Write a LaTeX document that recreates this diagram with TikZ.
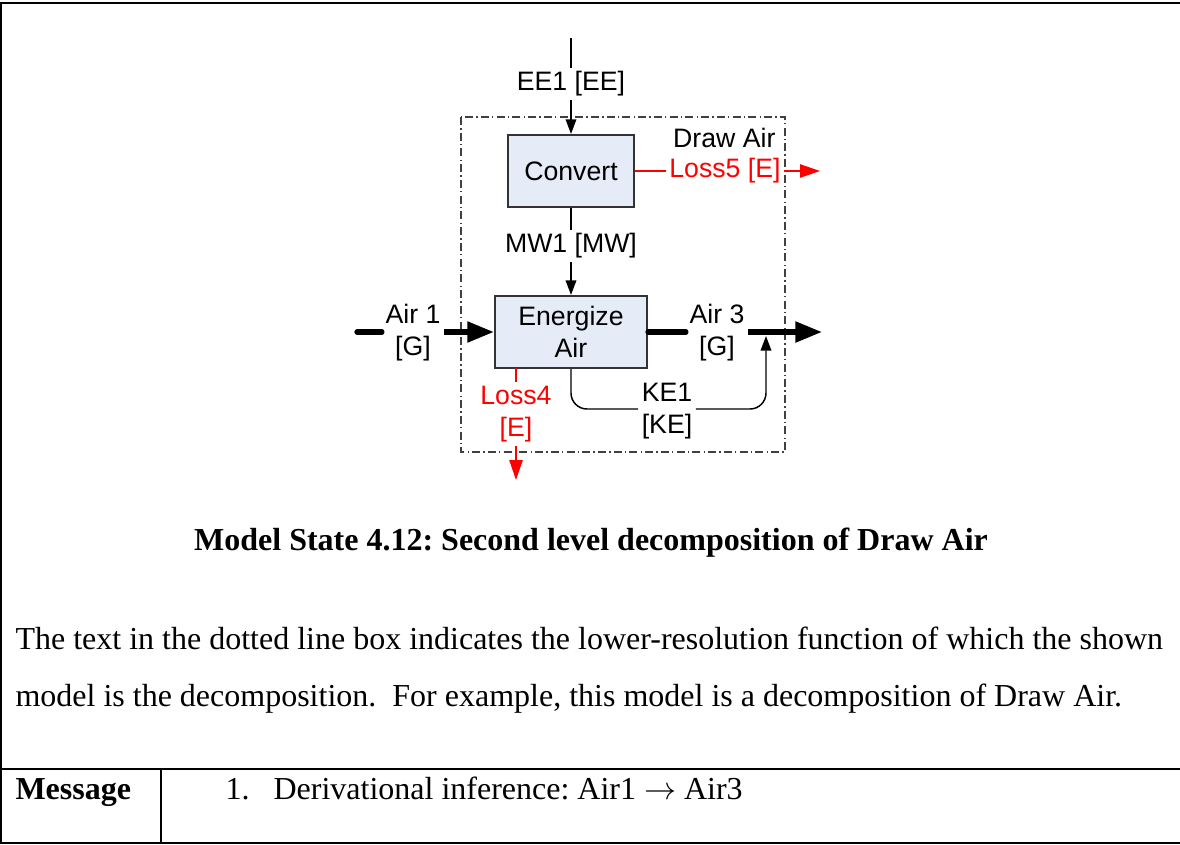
\documentclass[tikz,border=0pt]{standalone}
\usepackage{fontspec}
\setmainfont{Liberation Serif}
\newfontfamily\diagfont{Liberation Sans}
\usetikzlibrary{arrows.meta}
\frenchspacing

\definecolor{boxblue}{HTML}{E6ECF7}
\definecolor{boxline}{HTML}{333333}
\definecolor{lossred}{HTML}{FF0000}

\begin{document}
\begin{tikzpicture}[x=0.375pt, y=-0.375pt,
  fn/.style={draw=boxline, line width=0.8pt, fill=boxblue, align=center,
    font=\diagfont\fontsize{10}{12}\selectfont, inner sep=0pt},
  lbl/.style={fill=white, align=center, inner sep=1.2pt,
    font=\diagfont\fontsize{10}{12}\selectfont},
  flow/.style={line width=0.55pt},
  flowtip/.style={flow, -{Triangle[length=5.5pt, width=4pt]}},
  matter/.style={line width=2pt},
  mattertip/.style={matter, -{Triangle[length=10pt, width=7.5pt]}},
  loss/.style={line width=0.55pt, draw=lossred},
  losstip/.style={loss, -{Triangle[length=7.5pt, width=5pt]}, lossred},
  boundary/.style={draw=black!75, line width=0.4pt,
    dash pattern=on 3pt off 1.2pt on 0.5pt off 1.2pt},
  rule/.style={line width=0.75pt},
  body/.style={font=\fontsize{12}{14}\selectfont, inner sep=0pt}
]
\useasboundingbox (0,0) rectangle (1180,844);

% frame of the model-state cell and the message row
\draw[rule] (0,3) -- (1180,3);
\draw[rule] (1,3) -- (1,844);
\draw[rule] (0,769) -- (1180,769);
\draw[rule] (161,769) -- (161,844);
\draw[line width=0.4pt] (0,843) -- (1180,843);

% boundary of the higher-level function
\draw[boundary] (461,117) rectangle (785,452);
\node[anchor=east, font=\diagfont\fontsize{10}{12}\selectfont, inner sep=0pt]
  (drawair) at (776,138) {Draw Air};

% functions
\node[fn, minimum width=47.25pt, minimum height=27pt] (convert) at (571,171) {Convert};
\node[fn, minimum width=57pt, minimum height=27pt] (energize) at (571,332) {Energize\\Air};

% flow labels
\node[lbl] (ee1) at (571,84) {EE1 [EE]};
\node[lbl, text=lossred] (loss5) at (725,171) {Loss5 [E]};
\node[lbl] (mw1) at (571,246) {MW1 [MW]};
\node[lbl] (air1) at (413,333) {Air 1\\{}[G]};
\node[lbl] (air3) at (717,333) {Air 3\\{}[G]};
\node[lbl] (ke1) at (667,411) {KE1\\{}[KE]};
\node[lbl, text=lossred] (loss4) at (516,414) {Loss4\\{}[E]};

% free ends
\coordinate (eein) at (571,38);
\coordinate (loss5out) at (820,171);
\coordinate (air1in) at (357,332);
\coordinate (air3out) at (822,332);
\coordinate (kejoin) at (766,336);
\coordinate (loss4src) at (516,368);
\coordinate (loss4out) at (516,480);

% energy into Convert
\draw[flow] (eein) -- (ee1);
\draw[flowtip] (ee1) -- (convert);

% mechanical work into Energize Air
\draw[flow] (convert) -- (mw1);
\draw[flowtip] (mw1) -- (energize);

% losses
\draw[loss] (convert) -- (loss5);
\draw[losstip] (loss5) -- (loss5out);
\draw[loss] (loss4src) -- (loss4);
\draw[losstip] (loss4) -- (loss4out);

% air stream
\draw[matter, line cap=round] (air1in) -- (air1.west |- air1in);
\draw[mattertip] (air1.east |- air1in) -- (energize.west);
\draw[matter, line cap=round] (energize.east) -- (air3.west |- air3out);
\draw[mattertip] (air3.east |- air3out) -- (air3out);

% kinetic energy joining the air stream
\draw[flow, rounded corners=6pt] (energize.south) |- (ke1.west |- 0,409);
\draw[flowtip, rounded corners=6pt] (ke1.east |- 0,409) -| (kejoin);

% caption and description
\node[body, anchor=base, font=\bfseries\fontsize{12}{14}\selectfont] (caption) at (591,550)
  {Model State 4.12: Second level decomposition of Draw Air};
\node[body, anchor=base west] (line1) at (15,649)
  {The text in the dotted line box indicates the lower-resolution function of which the shown};
\node[body, anchor=base west] (line2) at (15,706)
  {model is the decomposition.\ \ For example, this model is a decomposition of Draw Air.};

% message row
\node[body, anchor=base west, font=\bfseries\fontsize{12}{14}\selectfont] (msg) at (15,799) {Message};
\node[body, anchor=base west] (item) at (225,799) {1.};
\node[body, anchor=base west] (itemtext) at (273,799) {Derivational inference: Air1 $\rightarrow$ Air3};
\end{tikzpicture}
\end{document}
